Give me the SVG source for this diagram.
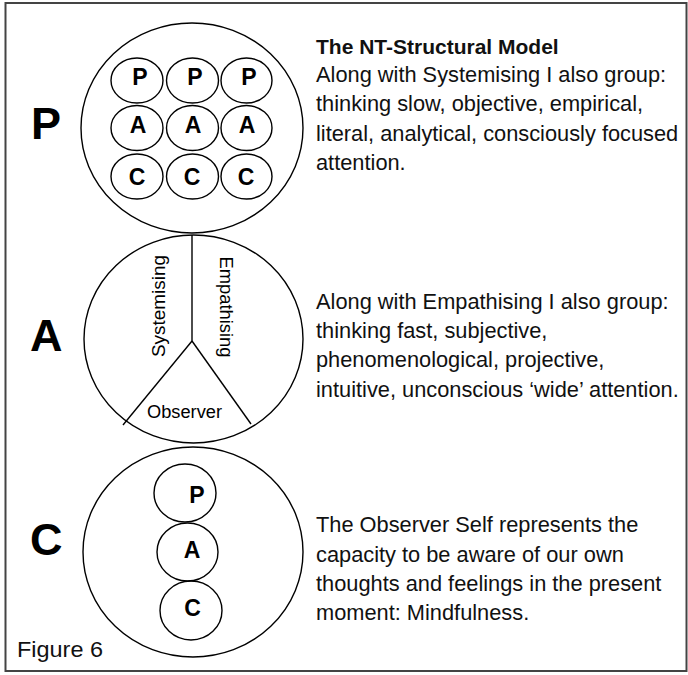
<svg xmlns="http://www.w3.org/2000/svg" width="688" height="675" viewBox="0 0 688 675">
<style>
.ln{fill:none;stroke:#000;stroke-width:1.4}
.big{font-family:"Liberation Sans",Arial,sans-serif;font-weight:bold;font-size:45px;fill:#000}
.sm{font-family:"Liberation Sans",Arial,sans-serif;font-weight:bold;font-size:23px;fill:#000;text-anchor:middle}
.tx{font-family:"Liberation Sans",Arial,sans-serif;font-size:21.8px;fill:#111}
.lb{font-family:"Liberation Sans",Arial,sans-serif;font-size:18px;fill:#000}
</style>
<rect x="0" y="0" width="688" height="675" fill="#fff"/>
<rect x="5.5" y="3" width="681" height="668" fill="none" stroke="#444" stroke-width="2"/>

<g id="node-P">
<text class="big" x="31" y="139">P</text>
<ellipse class="ln" cx="192" cy="128" rx="111" ry="105"/>
<ellipse class="ln" cx="137" cy="80.5" rx="26" ry="22.5"/>
<ellipse class="ln" cx="192.5" cy="80.5" rx="26" ry="22.5"/>
<ellipse class="ln" cx="246.5" cy="80.5" rx="25.5" ry="22.5"/>
<ellipse class="ln" cx="137" cy="128" rx="26" ry="22.5"/>
<ellipse class="ln" cx="192.5" cy="128" rx="26" ry="22.5"/>
<ellipse class="ln" cx="246.5" cy="128" rx="25.5" ry="22.5"/>
<ellipse class="ln" cx="137" cy="176.5" rx="26" ry="22.5"/>
<ellipse class="ln" cx="192.5" cy="176.5" rx="26" ry="22.5"/>
<ellipse class="ln" cx="246.5" cy="176.5" rx="25.5" ry="22.5"/>
<text class="sm" x="140" y="85">P</text>
<text class="sm" x="195" y="85">P</text>
<text class="sm" x="249" y="85">P</text>
<text class="sm" x="138" y="133">A</text>
<text class="sm" x="193" y="133">A</text>
<text class="sm" x="247" y="133">A</text>
<text class="sm" x="137" y="185">C</text>
<text class="sm" x="192" y="185">C</text>
<text class="sm" x="246" y="185">C</text>
</g>

<g id="node-A">
<text class="big" x="30" y="351">A</text>
<ellipse class="ln" cx="193.5" cy="339" rx="109.5" ry="104"/>
<text class="lb" transform="translate(165,306) rotate(-90)" text-anchor="middle" textLength="102" lengthAdjust="spacingAndGlyphs">Systemising</text>
<text class="lb" transform="translate(220,307) rotate(90)" text-anchor="middle" textLength="101" lengthAdjust="spacingAndGlyphs">Empathising</text>
<text class="lb" x="147" y="418" textLength="75" lengthAdjust="spacingAndGlyphs">Observer</text>
</g>

<g id="node-C">
<text class="big" x="30" y="555">C</text>
<ellipse class="ln" cx="193" cy="552" rx="110" ry="105"/>
<ellipse class="ln" cx="185" cy="493" rx="31" ry="29"/>
<ellipse class="ln" cx="187.5" cy="552" rx="30.5" ry="29"/>
<ellipse class="ln" cx="191" cy="610.5" rx="31" ry="29.5"/>
<text class="sm" x="197" y="503">P</text>
<text class="sm" x="192" y="558">A</text>
<text class="sm" x="192.5" y="616">C</text>
</g>

<g id="connectors">
<line class="ln" x1="192" y1="235" x2="192" y2="341"/>
<line class="ln" x1="192" y1="341" x2="123" y2="425"/>
<line class="ln" x1="192" y1="341" x2="251" y2="424"/>
</g>

<g id="text-P">
<text class="tx" x="316" y="54" font-weight="bold" style="font-size:21px" fill="#000">The NT-Structural Model</text>
<text class="tx" x="316" y="82">Along with Systemising I also group:</text>
<text class="tx" x="316" y="111">thinking slow, objective, empirical,</text>
<text class="tx" x="316" y="141">literal, analytical, consciously focused</text>
<text class="tx" x="316" y="170">attention.</text>
</g>
<g id="text-A">
<text class="tx" x="316" y="309">Along with Empathising I also group:</text>
<text class="tx" x="316" y="338">thinking fast, subjective,</text>
<text class="tx" x="316" y="367">phenomenological, projective,</text>
<text class="tx" x="316" y="397">intuitive, unconscious ‘wide’ attention.</text>
</g>
<g id="text-C">
<text class="tx" x="316" y="532">The Observer Self represents the</text>
<text class="tx" x="316" y="562">capacity to be aware of our own</text>
<text class="tx" x="316" y="591">thoughts and feelings in the present</text>
<text class="tx" x="316" y="620">moment: Mindfulness.</text>
</g>
<text class="tx" x="17" y="657" textLength="86" lengthAdjust="spacingAndGlyphs">Figure 6</text>
</svg>
